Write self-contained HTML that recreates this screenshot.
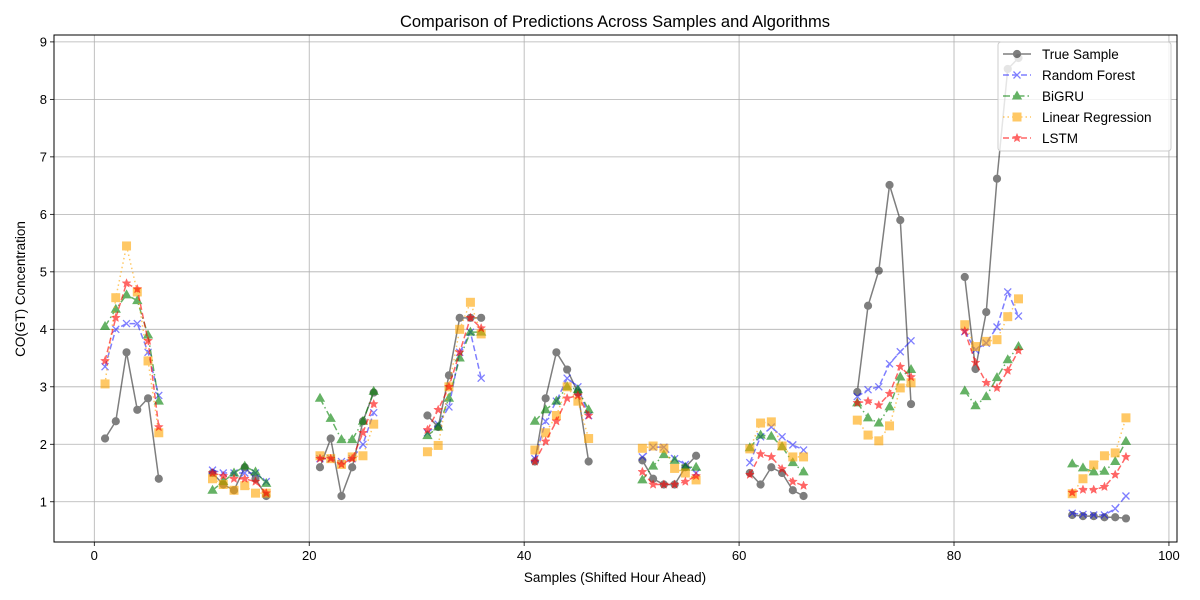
<!DOCTYPE html>
<html><head><meta charset="utf-8"><style>
body{margin:0;background:#fff}
svg{display:block;font-family:"Liberation Sans","DejaVu Sans",sans-serif}
</style></head><body>
<svg id="chart" width="1200" height="600">
<rect width="1200" height="600" fill="#fff"/>
<text x="615" y="27" text-anchor="middle" font-size="16.5">Comparison of Predictions Across Samples and Algorithms</text>
<g id="grid"></g><g id="series"></g><g id="axes"></g><g id="legend"></g>
<text x="615" y="582" text-anchor="middle" font-size="13.5">Samples (Shifted Hour Ahead)</text>
<text transform="translate(25,289) rotate(-90)" text-anchor="middle" font-size="13.5">CO(GT) Concentration</text>
</svg>
<script>
const groupStarts=[1,11,21,31,41,51,61,71,81,91];
const trueVals=[2.1,2.4,3.6,2.6,2.8,1.4, 1.5,1.3,1.2,1.6,1.4,1.1, 1.6,2.1,1.1,1.6,2.4,2.9, 2.5,2.3,3.2,4.2,4.2,4.2, 1.7,2.8,3.6,3.3,2.9,1.7, 1.72,1.4,1.3,1.3,1.6,1.8, 1.5,1.3,1.6,1.5,1.2,1.1, 2.91,4.41,5.02,6.51,5.9,2.7, 4.91,3.31,4.3,6.62,8.53,8.72, 0.77,0.75,0.75,0.73,0.73,0.71];
const rfVals=[3.35,4.0,4.1,4.1,3.6,2.85, 1.55,1.5,1.5,1.5,1.5,1.35, 1.75,1.75,1.7,1.75,2.0,2.55, 2.2,2.35,2.65,3.6,3.95,3.15, 1.75,2.4,2.75,3.15,3.0,2.5, 1.78,1.95,1.95,1.75,1.65,1.5, 1.68,2.13,2.3,2.13,1.99,1.9, 2.83,2.95,3.0,3.4,3.61,3.8, 3.96,3.64,3.76,4.04,4.65,4.23, 0.8,0.78,0.77,0.77,0.88,1.1];
const bigruVals=[4.05,4.35,4.6,4.5,3.9,2.75, 1.2,1.35,1.5,1.62,1.52,1.32, 2.8,2.45,2.08,2.08,2.4,2.92, 2.15,2.3,2.8,3.5,3.95,3.95, 2.4,2.6,2.75,3.0,2.95,2.6, 1.38,1.62,1.82,1.72,1.6,1.6, 1.94,2.16,2.14,1.96,1.68,1.52, 2.72,2.46,2.37,2.65,3.17,3.3, 2.93,2.67,2.83,3.16,3.47,3.7, 1.66,1.59,1.52,1.53,1.7,2.05];
const lrVals=[3.05,4.55,5.45,4.65,3.45,2.2, 1.4,1.3,1.2,1.28,1.15,1.15, 1.8,1.75,1.65,1.78,1.8,2.35, 1.87,1.98,3.0,4.0,4.47,3.92, 1.9,2.2,2.5,3.0,2.75,2.1, 1.93,1.97,1.93,1.58,1.5,1.38, 1.92,2.37,2.39,1.97,1.78,1.78, 2.42,2.16,2.06,2.32,2.98,3.07, 4.08,3.7,3.79,3.82,4.22,4.53, 1.14,1.4,1.64,1.8,1.85,2.46];
const lstmVals=[3.45,4.2,4.8,4.7,3.8,2.3, 1.5,1.45,1.4,1.4,1.35,1.15, 1.75,1.75,1.65,1.75,2.2,2.7, 2.25,2.6,3.0,3.6,4.2,4.02, 1.7,2.05,2.4,2.8,2.85,2.5, 1.52,1.3,1.3,1.3,1.35,1.45, 1.47,1.83,1.78,1.57,1.35,1.28, 2.72,2.75,2.68,2.88,3.35,3.17, 3.97,3.42,3.07,2.98,3.28,3.63, 1.16,1.21,1.21,1.26,1.47,1.78];
const xTicks=[0,20,40,60,80,100];
const yTicks=[1,2,3,4,5,6,7,8,9];
const seriesNames=["True Sample","Random Forest","BiGRU","Linear Regression","LSTM"];

const NS="http://www.w3.org/2000/svg";
const L=54,R=1177,T=35,B=542,xmin=-3.75,xmax=100.75,ymin=0.3,ymax=9.12;
const X=v=>L+(v-xmin)/(xmax-xmin)*(R-L);
const Y=v=>B-(v-ymin)/(ymax-ymin)*(B-T);
function el(tag,attrs,parent){const e=document.createElementNS(NS,tag);for(const k in attrs)e.setAttribute(k,attrs[k]);parent.appendChild(e);return e;}
const grid=document.getElementById('grid'),axes=document.getElementById('axes'),ser=document.getElementById('series'),leg=document.getElementById('legend');
xTicks.forEach(t=>{const x=X(t);
 const g=el('line',{x1:x,x2:x,y1:T,y2:B,stroke:'#b0b0b0','stroke-width':0.8},grid);
 
 el('line',{x1:x,x2:x,y1:B,y2:B+4,stroke:'#000','stroke-width':0.8},axes);
 const tx=el('text',{x:x,y:B+18,'text-anchor':'middle','font-size':13},axes);tx.textContent=t;
 });
yTicks.forEach(t=>{const y=Y(t);
 const g=el('line',{x1:L,x2:R,y1:y,y2:y,stroke:'#b0b0b0','stroke-width':0.8},grid);
 
 el('line',{x1:L-4,x2:L,y1:y,y2:y,stroke:'#000','stroke-width':0.8},axes);
 const tx=el('text',{x:L-7,y:y+4.5,'text-anchor':'end','font-size':13},axes);tx.textContent=t;
 });
const frame=el('rect',{x:L,y:T,width:R-L,height:B-T,fill:'none',stroke:'#000','stroke-width':1},axes);


function marker(type,x,y,color,p){
 let m;
 if(type==='o')m=el('circle',{cx:x,cy:y,r:3.6,fill:color,stroke:color},p);
 else if(type==='x'){m=el('path',{d:`M${x-3.5},${y-3.5}L${x+3.5},${y+3.5}M${x-3.5},${y+3.5}L${x+3.5},${y-3.5}`,stroke:color,'stroke-width':1.3,fill:'none'},p);}
 else if(type==='^')m=el('path',{d:`M${x},${y-4.5}L${x+4.3},${y+3}L${x-4.3},${y+3}Z`,fill:color,stroke:color},p);
 else if(type==='s')m=el('rect',{x:x-4,y:y-4,width:8,height:8,fill:color,stroke:color},p);
 else {let d='';for(let i=0;i<10;i++){const r=i%2?2:4.6,a=-Math.PI/2+i*Math.PI/5;d+=(i?'L':'M')+(x+r*Math.cos(a))+','+(y+r*Math.sin(a));}m=el('path',{d:d+'Z',fill:color,stroke:color,'stroke-width':0.5},p);}
 return m;
}
const styles=[
 {vals:trueVals,color:'#000',dash:'',mk:'o',op:0.5,name:'true-sample'},
 {vals:rfVals,color:'#0000ff',dash:'6,3',mk:'x',op:0.5,name:'random-forest'},
 {vals:bigruVals,color:'#008000',dash:'7,3,1.5,3',mk:'^',op:0.6,name:'bigru'},
 {vals:lrVals,color:'#ffa500',dash:'1.5,3',mk:'s',op:0.6,name:'linear-regression'},
 {vals:lstmVals,color:'#ff0000',dash:'6,3',mk:'*',op:0.6,name:'lstm'}];
styles.forEach(s=>{
 const g=el('g',{opacity:s.op},ser);
 
 groupStarts.forEach((st,gi)=>{
  const pts=[];for(let i=0;i<6;i++){pts.push([X(st+i),Y(s.vals[gi*6+i])]);}
  const pl=el('polyline',{points:pts.map(p=>p.join(',')).join(' '),fill:'none',stroke:s.color,'stroke-width':1.5,'stroke-dasharray':s.dash},g);
  
  pts.forEach(p=>{const m=marker(s.mk,p[0],p[1],s.color,g);
   });
 });
});
const box=el('rect',{x:998,y:42,width:173,height:109,fill:'#fff','fill-opacity':0.8,stroke:'#ccc',rx:3},leg);

styles.forEach((s,i)=>{const y=54+i*21;
 const g=el('g',{},leg);
 
 const gg=el('g',{opacity:s.op},g);
 el('line',{x1:1003,x2:1031,y1:y,y2:y,stroke:s.color,'stroke-width':1.5,'stroke-dasharray':s.dash},gg);
 marker(s.mk,1017,y,s.color,gg);
 const t=el('text',{x:1042,y:y+5,'font-size':13.5},g);t.textContent=seriesNames[i];});
</script>
</body></html>
